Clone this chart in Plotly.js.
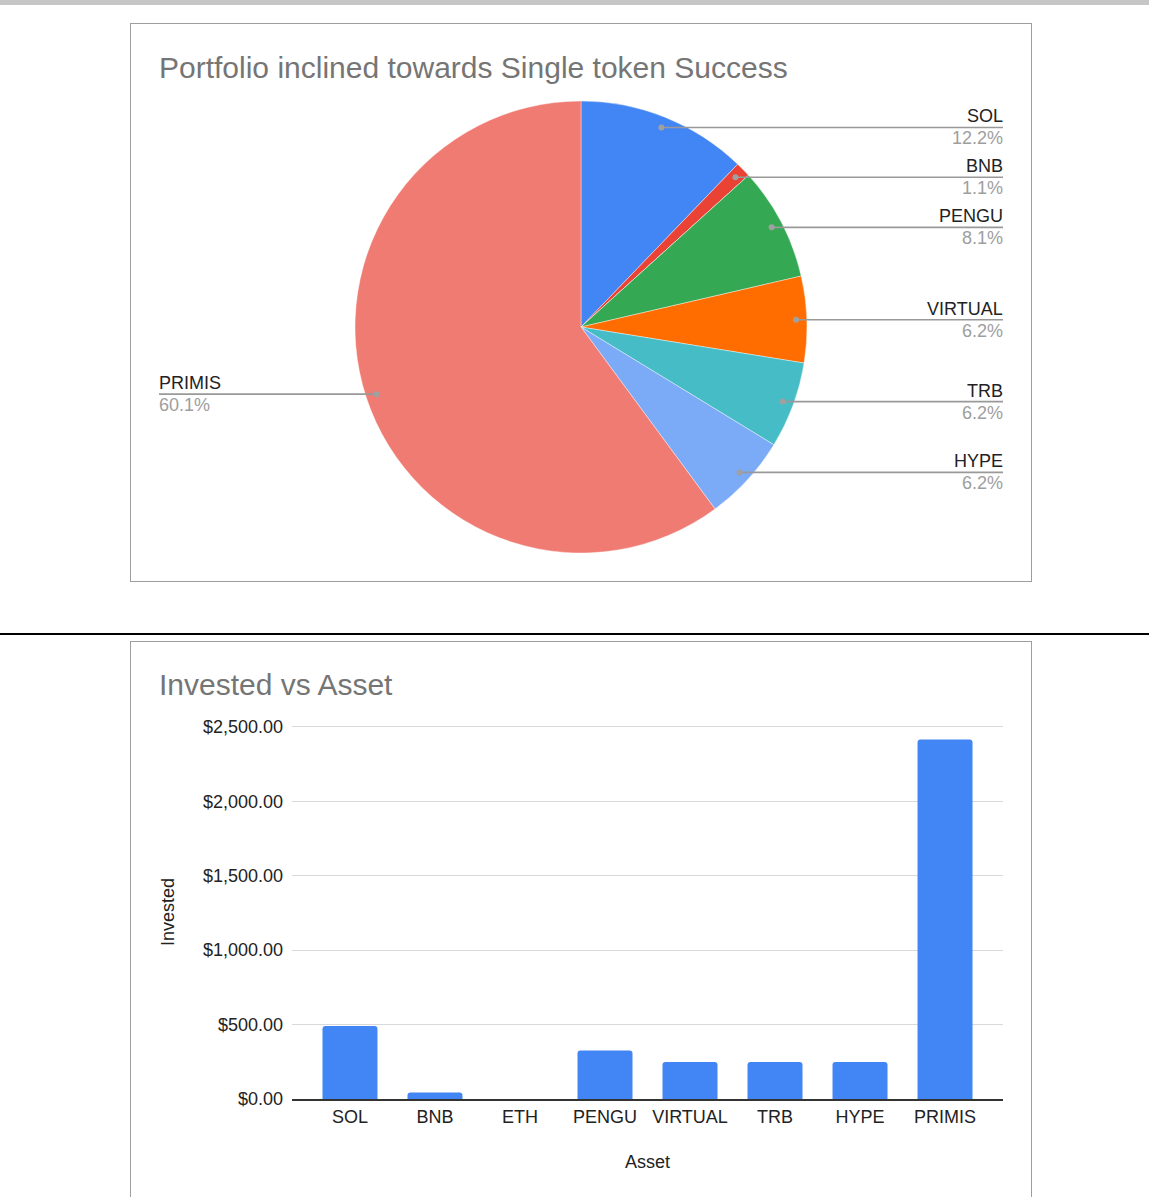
<!DOCTYPE html>
<html><head><meta charset="utf-8">
<script src="https://cdn.plot.ly/plotly-3.0.1.min.js"></script>
<style>
html,body{margin:0;padding:0;background:#fff;overflow:hidden;width:1149px;height:1197px;}
#topbar{position:absolute;left:0;top:0;width:1149px;height:5px;background:#c6c6c6;}
#box1{position:absolute;left:130px;top:23px;width:900px;height:557px;border:1px solid #9e9e9e;}
#sep{position:absolute;left:0;top:633px;width:1149px;height:2px;background:#000;}
#box2{position:absolute;left:130px;top:641px;width:900px;height:600px;border:1px solid #9e9e9e;}
#pie,#bar{width:900px;}
#pie{height:557px;}
#bar{height:600px;}
</style></head>
<body>
<div id="topbar"></div>
<div id="box1"><div id="pie"></div></div>
<div id="sep"></div>
<div id="box2"><div id="bar"></div></div>
<script>
// ---- data ----
const assets = ["SOL", "BNB", "ETH", "PENGU", "VIRTUAL", "TRB", "HYPE", "PRIMIS"];
const invested = [490, 44, 0, 325, 248, 248, 248, 2415];
const sliceColors = ["#4285f4", "#ea4335", "#fbbc04", "#34a853", "#ff6d01", "#46bdc6", "#7baaf7", "#f07b72"];
const pieTitle = "Portfolio inclined towards Single token Success";
const barTitle = "Invested vs Asset";
const yTitle = "Invested";
const xTitle = "Asset";

const FONT = "Arial, 'Liberation Sans', sans-serif";

// ---- pie ----
const PW = 900, PH = 557;
const cx = 450, cy = 303, R = 226;        // pie geometry (px, within pie div)
const labelRightX = 872, labelLeftX = 28;

const pieTrace = {
  type: "pie",
  labels: assets,
  values: invested,
  marker: {colors: sliceColors, line: {color: "#ffffff", width: 0.4}},
  sort: false,
  direction: "clockwise",
  rotation: 0,
  textinfo: "none",
  hoverinfo: "skip",
  showlegend: false,
  domain: {x: [(cx - R) / PW, (cx + R) / PW], y: [(PH - cy - R) / PH, (PH - cy + R) / PH]}
};

const total = invested.reduce((a, b) => a + b, 0);
const shapes = [], annotations = [];
let cum = 0;
invested.forEach((v, i) => {
  if (v <= 0) { cum += v; return; }
  const theta = 2 * Math.PI * (cum + v / 2) / total;
  cum += v;
  const px = cx + 0.952 * R * Math.sin(theta);
  const py = cy - 0.952 * R * Math.cos(theta);
  const right = Math.sin(theta) >= 0;
  const lx = right ? labelRightX : labelLeftX;
  const X = v => v / PW, Y = v => 1 - v / PH;
  shapes.push({type: "line", xref: "paper", yref: "paper", x0: X(px), x1: X(lx), y0: Y(py), y1: Y(py),
               line: {color: "#999999", width: 1.6}});
  shapes.push({type: "circle", xref: "paper", yref: "paper", fillcolor: "#a0a0a0", line: {width: 0},
               x0: X(px - 3), x1: X(px + 3), y0: Y(py + 3), y1: Y(py - 3)});
  annotations.push({xref: "paper", yref: "paper", x: X(lx), y: Y(py), text: assets[i], showarrow: false,
                    xanchor: right ? "right" : "left", yanchor: "bottom", yshift: -1, xshift: right ? 2 : -2,
                    font: {family: FONT, size: 18, color: "#222222"}});
  annotations.push({xref: "paper", yref: "paper", x: X(lx), y: Y(py),
                    text: (v / total * 100).toFixed(1) + "%", showarrow: false,
                    xanchor: right ? "right" : "left", yanchor: "top", yshift: 1, xshift: right ? 2 : -2,
                    font: {family: FONT, size: 18, color: "#9e9e9e"}});
});

Plotly.newPlot("pie", [pieTrace], {
  width: PW, height: PH,
  margin: {l: 0, r: 0, t: 0, b: 0},
  paper_bgcolor: "#ffffff",
  font: {family: FONT},
  title: {text: pieTitle, x: 28 / PW, xanchor: "left", xref: "container",
          y: 1 - 43 / PH, yanchor: "middle", yref: "container",
          font: {family: FONT, size: 30, color: "#757575"}},
  shapes: shapes,
  annotations: annotations
}, {staticPlot: true, displayModeBar: false});

// ---- bar ----
const barTrace = {
  type: "bar",
  x: assets,
  y: invested,
  marker: {color: "#4285f4", cornerradius: 3},
  hoverinfo: "skip",
  showlegend: false
};

Plotly.newPlot("bar", [barTrace], {
  width: 900, height: 600,
  margin: {l: 161, r: 28, t: 83, b: 143},
  paper_bgcolor: "#ffffff",
  plot_bgcolor: "#ffffff",
  font: {family: FONT, size: 18, color: "#222222"},
  bargap: 0.353,
  title: {text: barTitle, x: 28 / 900, xanchor: "left", xref: "container",
          y: 1 - 42 / 600, yanchor: "middle", yref: "container",
          font: {family: FONT, size: 30, color: "#757575"}},
  xaxis: {type: "category", range: [-0.682, 7.682], showgrid: false, zeroline: false,
          showline: true, linecolor: "#333333", linewidth: 1.5, ticks: "",
          tickfont: {family: FONT, size: 18, color: "#222222"}, ticklabelstandoff: 1,
          title: {text: xTitle, standoff: 29, font: {family: FONT, size: 18, color: "#222222"}}},
  yaxis: {range: [0, 2512], dtick: 500, tick0: 0, tickformat: "$,.2f",
          showgrid: true, gridcolor: "#d9d9d9", gridwidth: 1, zeroline: false, showline: false,
          ticks: "", ticklabelstandoff: 8,
          tickfont: {family: FONT, size: 18, color: "#222222"},
          title: {text: yTitle, standoff: 23, font: {family: FONT, size: 18, color: "#222222"}}}
}, {staticPlot: true, displayModeBar: false});
</script>
</body></html>
